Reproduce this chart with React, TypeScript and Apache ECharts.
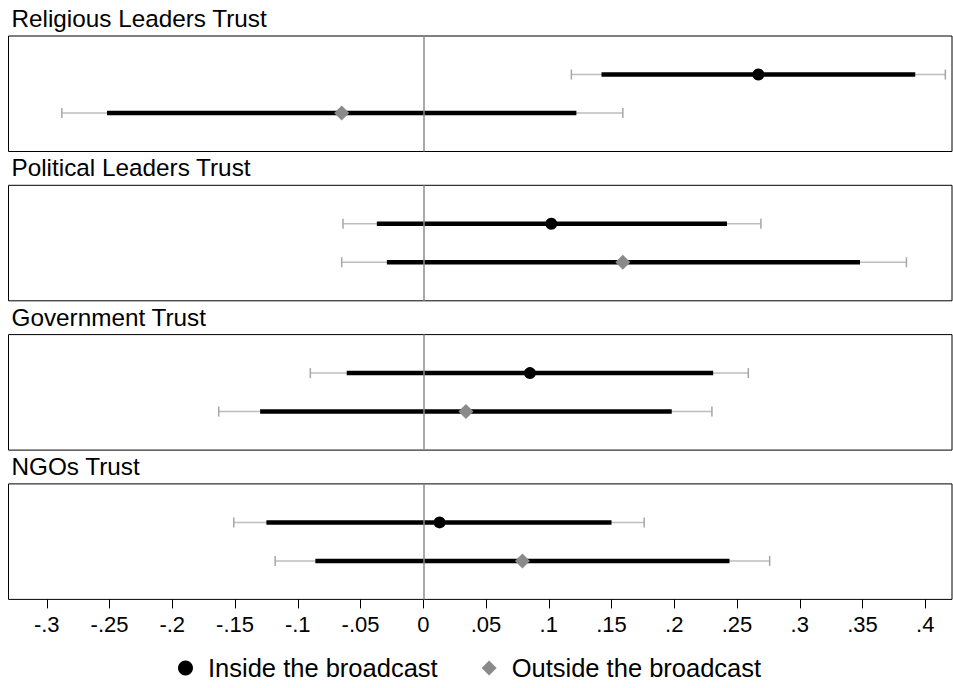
import React, { useEffect, useRef } from "react";
import * as echarts from "echarts";

const categories = [
  "Religious Leaders Trust",
  "Political Leaders Trust",
  "Government Trust",
  "NGOs Trust",
];
const insideEst = [0.267, 0.102, 0.085, 0.013];
const insideLo90 = [0.142, -0.037, -0.061, -0.125];
const insideHi90 = [0.392, 0.242, 0.231, 0.15];
const insideLo95 = [0.118, -0.064, -0.09, -0.151];
const insideHi95 = [0.416, 0.269, 0.259, 0.176];
const outsideEst = [-0.065, 0.159, 0.034, 0.079];
const outsideLo90 = [-0.252, -0.029, -0.13, -0.086];
const outsideHi90 = [0.122, 0.348, 0.198, 0.244];
const outsideLo95 = [-0.288, -0.065, -0.163, -0.118];
const outsideHi95 = [0.159, 0.385, 0.23, 0.276];
const tickValues = [-0.3, -0.25, -0.2, -0.15, -0.1, -0.05, 0, 0.05, 0.1, 0.15, 0.2, 0.25, 0.3, 0.35, 0.4];
const tickLabels = ["-.3", "-.25", "-.2", "-.15", "-.1", "-.05", "0", ".05", ".1", ".15", ".2", ".25", ".3", ".35", ".4"];
const seriesNames = ["Inside the broadcast", "Outside the broadcast"];

const FONT = "'Liberation Sans', Arial, Helvetica, sans-serif";

export default function App() {
  const ref = useRef<HTMLDivElement>(null);
  useEffect(() => {
    if (!ref.current) return;
    const chart = echarts.init(ref.current, null, { renderer: "svg" });
    const gridTop0 = 36;
    const step = 149.3;
    const gridH = 115.5;
    const grids: any[] = [];
    const xAxes: any[] = [];
    const yAxes: any[] = [];
    const titles: any[] = [];
    const series: any[] = [];
    const labelMap: Record<string, string> = {};
    tickValues.forEach((v, i) => (labelMap[v.toFixed(2)] = tickLabels[i]));

    categories.forEach((cat, i) => {
      const top = gridTop0 + step * i;
      const last = i === categories.length - 1;
      grids.push({
        left: 8.5,
        right: 1,
        top,
        height: gridH,
        show: true,
        borderColor: "#000",
        borderWidth: 1,
        backgroundColor: "#fff",
      });
      xAxes.push({
        type: "value",
        gridIndex: i,
        position: "bottom",
        min: -0.3305,
        max: 0.4213,
        axisLine: { show: false, onZero: false },
        splitLine: { show: false },
        axisTick: {
          show: last,
          inside: false,
          customValues: tickValues,
          length: 9,
          lineStyle: { color: "#000", width: 1 },
        },
        axisLabel: {
          show: last,
          customValues: tickValues,
          margin: 14,
          fontSize: 22,
          lineHeight: 22,
          color: "#000",
          fontFamily: FONT,
          formatter: (v: number) => labelMap[v.toFixed(2)] ?? String(v),
        },
      });
      yAxes.push({
        type: "value",
        gridIndex: i,
        min: 0,
        max: 3,
        inverse: true,
        show: false,
      });
      titles.push({
        text: cat,
        left: 11.5,
        top: 6.5 + step * i,
        padding: 0,
        textStyle: {
          fontSize: 24.3,
          lineHeight: 24,
          fontWeight: "normal",
          color: "#000",
          fontFamily: FONT,
        },
      });
      series.push({
        type: "line",
        xAxisIndex: i,
        yAxisIndex: i,
        data: [],
        z: 1,
        markLine: {
          silent: true,
          symbol: ["none", "none"],
          label: { show: false },
          lineStyle: { color: "#8c8c8c", width: 1.5, type: "solid" },
          data: [{ xAxis: 0 }],
        },
      });
      series.push({
        type: "custom",
        xAxisIndex: i,
        yAxisIndex: i,
        z: 2,
        encode: { x: [0, 1, 2, 3], y: 4 },
        data: [
          [insideLo95[i], insideHi95[i], insideLo90[i], insideHi90[i], 1],
          [outsideLo95[i], outsideHi95[i], outsideLo90[i], outsideHi90[i], 2],
        ],
        renderItem: (params: any, api: any) => {
          const y = api.value(4);
          const p1 = api.coord([api.value(0), y]);
          const p2 = api.coord([api.value(1), y]);
          const t1 = api.coord([api.value(2), y]);
          const t2 = api.coord([api.value(3), y]);
          const thin = { stroke: "#bdbdbd", lineWidth: 1.5 };
          const cap = { stroke: "#a6a6a6", lineWidth: 1.5 };
          return {
            type: "group",
            children: [
              { type: "line", shape: { x1: p1[0], y1: p1[1], x2: p2[0], y2: p2[1] }, style: thin },
              { type: "line", shape: { x1: p1[0], y1: p1[1] - 5, x2: p1[0], y2: p1[1] + 5 }, style: cap },
              { type: "line", shape: { x1: p2[0], y1: p2[1] - 5, x2: p2[0], y2: p2[1] + 5 }, style: cap },
              { type: "line", shape: { x1: t1[0], y1: t1[1], x2: t2[0], y2: t2[1] }, style: { stroke: "#000", lineWidth: 4.5 } },
            ],
          };
        },
      });
      series.push({
        type: "scatter",
        name: seriesNames[0],
        xAxisIndex: i,
        yAxisIndex: i,
        z: 3,
        symbol: "circle",
        symbolSize: 12,
        itemStyle: { color: "#000", opacity: 1 },
        data: [[insideEst[i], 1]],
      });
      series.push({
        type: "scatter",
        name: seriesNames[1],
        xAxisIndex: i,
        yAxisIndex: i,
        z: 3,
        symbol: "diamond",
        symbolSize: 15,
        itemStyle: { color: "#8a8a8a", opacity: 1 },
        data: [[outsideEst[i], 2]],
      });
    });

    chart.setOption({
      animation: false,
      backgroundColor: "#fff",
      title: titles,
      grid: grids,
      xAxis: xAxes,
      yAxis: yAxes,
      legend: {
        data: [
          { name: seriesNames[0], icon: "circle", itemStyle: { color: "#000", opacity: 1 } },
          { name: seriesNames[1], icon: "diamond", itemStyle: { color: "#8a8a8a", opacity: 1 } },
        ],
        left: 178,
        top: 655,
        padding: 0,
        itemWidth: 15,
        itemHeight: 15,
        itemGap: 44,
        textStyle: {
          fontSize: 25.5,
          lineHeight: 26,
          color: "#000",
          fontFamily: FONT,
          padding: [0, 0, 0, 10],
        },
      },
      series,
    });
    return () => chart.dispose();
  }, []);
  return (
    <div
      ref={ref}
      style={{ position: "fixed", left: 0, top: 0, width: 953, height: 688, background: "#fff" }}
    />
  );
}
